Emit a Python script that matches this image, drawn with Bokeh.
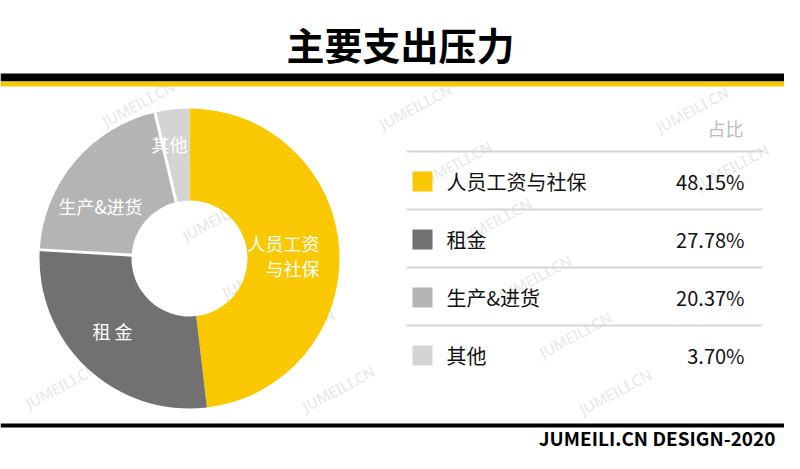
import numpy as np
from bokeh.plotting import figure
from bokeh.models import Range1d
from bokeh.embed import file_html
from bokeh.resources import INLINE
from bokeh.core.properties import value

# ---------------- data ----------------
title = "主要支出压力"
categories = ["人员工资与社保", "租金", "生产&进货", "其他"]
shares = [48.15, 27.78, 20.37, 3.70]
colors = ["#FAC800", "#717171", "#B4B4B4", "#D4D4D4"]
donut_labels = [["人员工资", "与社保"], ["租 金"], ["生产&进货"], ["其他"]]
header = "占比"
footer = "JUMEILI.CN DESIGN-2020"
watermark = "JUMEILI.CN"

# ---------------- layout (reference pixel space) ----------------
W, H = 800, 469
FW, FH = 784, 453
def Y(py):
    return H - py

CJK = value("Noto Sans CJK SC")

p = figure(width=FW, height=FH, x_range=Range1d(0, FW), y_range=Range1d(Y(FH), Y(0)),
           output_backend="svg", toolbar_location=None, min_border=0)
p.axis.visible = False
p.grid.visible = False
p.outline_line_color = None
p.background_fill_color = "white"
p.border_fill_color = "white"

# ---------------- watermark lattice ----------------
wx, wy = [], []
ox, oy = 495, 220
for i in range(-10, 11):
    for j in range(-6, 7):
        x = ox + 40 * i + 237 * j
        y = oy + 57 * i - 54 * j
        if 50 < x < FW - 50 and 92 < y < 398:
            wx.append(x)
            wy.append(Y(y))
p.text(wx, wy, text=[watermark] * len(wx), angle=np.deg2rad(28), text_align="center",
       text_baseline="middle", text_font=value("Noto Sans"), text_font_size="15px",
       text_color="#E6E6E6")

# ---------------- header ----------------
p.text([400], [Y(43)], text=[title], text_align="center", text_baseline="middle",
       text_font=CJK, text_font_style="bold", text_font_size="38px", text_color="#000000")
p.quad(left=[0], right=[FW], top=[Y(73)], bottom=[Y(81)], fill_color="#000000", line_color=None)
p.quad(left=[0], right=[FW], top=[Y(81)], bottom=[Y(86)], fill_color="#FAC800", line_color=None)

# ---------------- donut ----------------
cx, cy, r_in, r_out = 189, Y(258), 58, 150
vals = np.array(shares)
cum = np.concatenate([[0], np.cumsum(vals)]) / vals.sum()
starts = np.pi / 2 - 2 * np.pi * cum[:-1]
ends = np.pi / 2 - 2 * np.pi * cum[1:]
p.annular_wedge(x=[cx] * len(vals), y=[cy] * len(vals), inner_radius=r_in, outer_radius=r_out,
                start_angle=starts, end_angle=ends, direction="clock",
                fill_color=colors, line_color=None)
# white separators between the grey slices
sep = ends[1:3]
p.segment(x0=cx + (r_in - 2) * np.cos(sep), y0=cy + (r_in - 2) * np.sin(sep),
          x1=cx + (r_out + 2) * np.cos(sep), y1=cy + (r_out + 2) * np.sin(sep),
          line_color="white", line_width=3)

# slice labels
lab_pos = [[(319, 242, "right"), (319, 267, "right")],
           [(112, 330, "center")],
           [(100, 205, "center")],
           [(169, 143, "center")]]
lx, ly, lt, la = [], [], [], []
for lines, poss in zip(donut_labels, lab_pos):
    for t, (x, y, a) in zip(lines, poss):
        lx.append(x); ly.append(Y(y)); lt.append(t); la.append(a)
for a in ("right", "center"):
    idx = [k for k in range(len(lt)) if la[k] == a]
    p.text([lx[k] for k in idx], [ly[k] for k in idx], text=[lt[k] for k in idx],
           text_align=a, text_baseline="middle", text_font=CJK, text_font_size="18px",
           text_color="white")

# ---------------- table ----------------
row_y = [181, 239, 297, 355]
line_y = [151, 209, 267, 325]
p.text([743], [Y(127)], text=[header], text_align="right", text_baseline="middle",
       text_font=CJK, text_font_size="18px", text_color="#BBBBBB")
p.segment(x0=[406] * 4, x1=[762] * 4, y0=[Y(v) for v in line_y], y1=[Y(v) for v in line_y],
          line_color="#D6D6D6", line_width=2)
p.rect(x=[422] * 4, y=[Y(v) for v in row_y], width=20, height=20, fill_color=colors, line_color=None)
p.text([446] * 4, [Y(v) for v in row_y], text=categories, text_align="left", text_baseline="middle",
       text_font=CJK, text_font_size="20px", text_color="#111111")
p.text([744] * 4, [Y(v) for v in row_y], text=[f"{v:.2f}%" for v in shares], text_align="right",
       text_baseline="middle", text_font=CJK, text_font_size="20px", text_color="#111111")

# ---------------- footer ----------------
p.quad(left=[0], right=[FW], top=[Y(423)], bottom=[Y(427)], fill_color="#000000", line_color=None)
p.text([775], [Y(437)], text=[footer], text_align="right", text_baseline="middle",
       text_font=CJK, text_font_style="bold", text_font_size="19px", text_color="#000000")

open("out.html", "w").write(file_html(p, INLINE))
